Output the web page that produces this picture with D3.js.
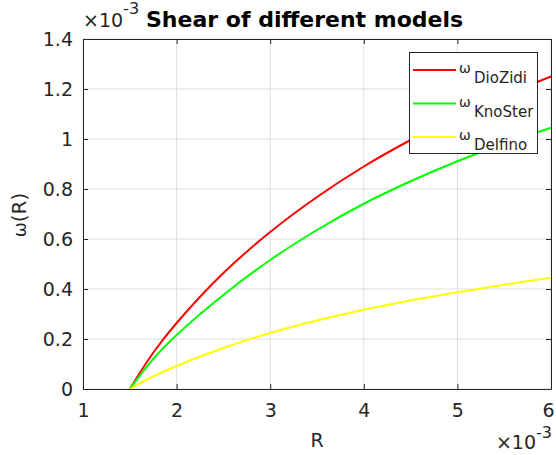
<!DOCTYPE html>
<html>
<head>
<meta charset="utf-8">
<script src="https://cdn.jsdelivr.net/npm/d3@7"></script>
<style>
  html, body { margin: 0; padding: 0; background: #fff; }
  svg { display: block; font-family: "DejaVu Sans", sans-serif; }
</style>
</head>
<body>
<div class="shear_chart"></div>
<script>
// values are in units of 1e-3 (both axes)
const rValues = [1.5, 1.75, 2, 2.5, 3, 3.5, 4, 4.5, 5, 5.5, 6];
const dioZidi = [0, 0.145, 0.264, 0.464, 0.628, 0.768, 0.89, 0.996, 1.09, 1.174, 1.25];
const knoSter = [0, 0.12, 0.216, 0.376, 0.516, 0.636, 0.741, 0.831, 0.911, 0.981, 1.045];
const delfino = [0, 0.05, 0.092, 0.164, 0.224, 0.274, 0.317, 0.354, 0.387, 0.417, 0.445];

const xTicks = [1, 2, 3, 4, 5, 6];
const yTicks = [0, 0.2, 0.4, 0.6, 0.8, 1, 1.2, 1.4];

const seriesNames = ["DioZidi", "KnoSter", "Delfino"];
const seriesColors = ["#ff0000", "#00ff00", "#ffff00"];
const seriesValues = [dioZidi, knoSter, delfino];

const width = 556,
  height = 455;
const margin = { top: 39, right: 5, bottom: 66, left: 83 };
const axisColor = "#262626";

const svg = d3
  .select(".shear_chart")
  .append("svg")
  .attr("width", width)
  .attr("height", height);

const x = d3.scaleLinear().domain([1, 6]).range([margin.left, width - margin.right]);
const y = d3.scaleLinear().domain([0, 1.4]).range([height - margin.bottom, margin.top]);

// grid
svg
  .append("g")
  .selectAll("line")
  .data(xTicks)
  .join("line")
  .attr("x1", (d) => x(d))
  .attr("x2", (d) => x(d))
  .attr("y1", y(0))
  .attr("y2", y(1.4))
  .attr("stroke", "#dfdfdf");

svg
  .append("g")
  .selectAll("line")
  .data(yTicks)
  .join("line")
  .attr("x1", x(1))
  .attr("x2", x(6))
  .attr("y1", (d) => y(d))
  .attr("y2", (d) => y(d))
  .attr("stroke", "#dfdfdf");

// curves
const line = d3
  .line()
  .x((d) => x(d[0]))
  .y((d) => y(d[1]))
  .curve(d3.curveCatmullRom.alpha(0.5));

seriesValues.forEach((vals, i) => {
  svg
    .append("path")
    .datum(rValues.map((r, j) => [r, vals[j]]))
    .attr("d", line)
    .attr("fill", "none")
    .attr("stroke", seriesColors[i])
    .attr("stroke-width", 2);
});

// axes, ticks inside, box on
const tickLen = -5;
const styleAxis = (g) => {
  g.selectAll("path").attr("stroke", axisColor);
  g.selectAll("line").attr("stroke", axisColor);
  g.selectAll("text").attr("fill", axisColor).attr("font-size", "19px").attr("font-family", "DejaVu Sans");
};

const xAxis = svg
  .append("g")
  .attr("transform", `translate(0,${y(0)})`)
  .call(d3.axisBottom(x).tickValues(xTicks).tickFormat(d3.format("d")).tickSizeInner(tickLen).tickSizeOuter(0).tickPadding(15))
  .call(styleAxis);
// last label sits on the window edge, nudge it in a little
xAxis.selectAll(".tick text").filter((d) => d === 6).attr("dx", -3);

svg
  .append("g")
  .attr("transform", `translate(0,${y(1.4)})`)
  .call(d3.axisTop(x).tickValues(xTicks).tickFormat("").tickSizeInner(tickLen).tickSizeOuter(0))
  .call(styleAxis);

svg
  .append("g")
  .attr("transform", `translate(${x(1)},0)`)
  .call(d3.axisLeft(y).tickValues(yTicks).tickFormat((d) => String(+d.toFixed(1))).tickSizeInner(tickLen).tickSizeOuter(0).tickPadding(10))
  .call(styleAxis);

svg
  .append("g")
  .attr("transform", `translate(${x(6)},0)`)
  .call(d3.axisRight(y).tickValues(yTicks).tickFormat("").tickSizeInner(tickLen).tickSizeOuter(0))
  .call(styleAxis);

svg.selectAll(".domain").attr("stroke", axisColor);

// title + exponent labels
svg
  .append("text")
  .attr("x", 146)
  .attr("y", 27)
  .attr("font-size", "22px")
  .attr("font-weight", "bold")
  .attr("fill", "#000")
  .text("Shear of different models");

const topExp = svg
  .append("text")
  .attr("x", x(1))
  .attr("y", 27)
  .attr("font-size", "19px")
  .attr("fill", axisColor);
topExp.append("tspan").text("×10");
topExp.append("tspan").attr("font-size", "16px").attr("dy", -13).text("-3");

const botExp = svg
  .append("text")
  .attr("x", width - 4)
  .attr("y", 449)
  .attr("text-anchor", "end")
  .attr("font-size", "19px")
  .attr("fill", axisColor);
botExp.append("tspan").text("×10");
botExp.append("tspan").attr("font-size", "16px").attr("dy", -11).text("-3");

// axis labels
svg
  .append("text")
  .attr("x", (x(1) + x(6)) / 2)
  .attr("y", 447)
  .attr("text-anchor", "middle")
  .attr("font-size", "19px")
  .attr("fill", axisColor)
  .text("R");

const yLab = svg
  .append("text")
  .attr("transform", "translate(26,215) rotate(-90)")
  .attr("text-anchor", "middle")
  .attr("font-size", "20px")
  .attr("fill", axisColor);
yLab.append("tspan").attr("font-size", "18px").text("ω");
yLab.append("tspan").text("(R)");

// legend
const legend = svg.append("g");
legend
  .append("rect")
  .attr("x", 409.5)
  .attr("y", 52.5)
  .attr("width", 128)
  .attr("height", 101)
  .attr("fill", "#fff")
  .attr("stroke", axisColor);

seriesNames.forEach((name, i) => {
  const cy = 70 + i * 33.5;
  legend
    .append("line")
    .attr("x1", 413)
    .attr("x2", 456)
    .attr("y1", cy)
    .attr("y2", cy)
    .attr("stroke", seriesColors[i])
    .attr("stroke-width", 2);
  const t = legend
    .append("text")
    .attr("x", 459)
    .attr("y", cy + 3)
    .attr("fill", axisColor);
  t.append("tspan").attr("font-size", "14px").text("ω");
  t.append("tspan").attr("font-size", "15px").attr("x", 474).attr("dy", 10).text(name);
});
</script>
</body>
</html>
